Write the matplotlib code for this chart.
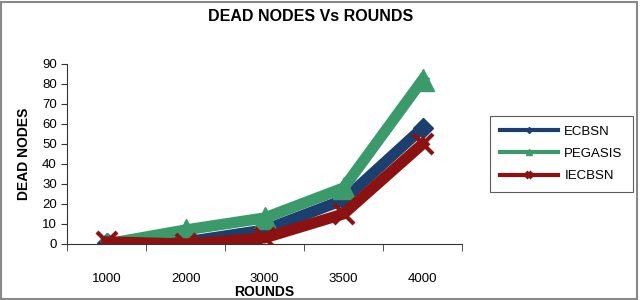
import numpy as np
import matplotlib.pyplot as plt
from matplotlib.patches import Rectangle

plt.rcParams['font.family'] = ['Liberation Sans', 'DejaVu Sans']

rounds = ['1000', '2000', '3000', '3500', '4000']
ecbsn = [0.5, 1, 7, 22, 58]
pegasis = [0, 7, 13, 28, 82]
iecbsn = [1, 0, 3, 15, 50]

fig = plt.figure(figsize=(6.4, 3.0), dpi=100)
ax = fig.add_axes([0.105, 0.187, 0.617, 0.600])

x = np.arange(len(rounds))
ax.plot(x, ecbsn, color='#1b3f6e', lw=8, marker='D', ms=10, label='ECBSN',
        solid_joinstyle='miter')
ax.plot(x, pegasis, color='#3a9a6a', lw=8, marker='^', ms=16, label='PEGASIS',
        solid_joinstyle='miter')
ax.plot(x, iecbsn, color='#8c1212', lw=8, marker='x', ms=14, mew=3, label='IECBSN',
        solid_joinstyle='miter')

ax.set_xlim(-0.5, len(rounds) - 0.5)
ax.set_ylim(0, 90)
ax.set_yticks(range(0, 91, 10))
ax.set_xticks(x)
ax.set_xticklabels(rounds)
ax.set_xticks(np.arange(-0.5, len(rounds), 1), minor=True)
ax.tick_params(axis='x', which='major', length=0, pad=21, labelsize=9.5)
ax.tick_params(axis='x', which='minor', length=5, direction='out', color='#333333')
ax.tick_params(axis='y', length=4, direction='out', labelsize=9.5, color='#333333')
for s in ['top', 'right']:
    ax.spines[s].set_visible(False)
ax.spines['left'].set_color('#333333')
ax.spines['bottom'].set_color('#333333')

ax.set_xlabel('ROUNDS', fontweight='bold', fontsize=10, labelpad=0)
ax.set_ylabel('DEAD NODES', fontweight='bold', fontsize=10, labelpad=8)
fig.text(0.485, 0.945, 'DEAD NODES Vs ROUNDS', ha='center', va='center',
         fontweight='bold', fontsize=11.5)

leg = ax.legend(loc='center left', bbox_to_anchor=(1.07, 0.5), frameon=True,
                fancybox=False, edgecolor='#333333', fontsize=9.5,
                handlelength=4.4, handletextpad=0.5, markerscale=0.3,
                borderpad=0.75, labelspacing=0.75, borderaxespad=0)
leg.get_frame().set_linewidth(0.8)
for h in leg.get_lines():
    h.set_linewidth(3)

fig.patches.append(Rectangle((0.002, 0.005), 0.994, 0.99, transform=fig.transFigure,
                             fill=False, edgecolor='#888888', lw=1.5))

fig.savefig('out.png', dpi=100)
